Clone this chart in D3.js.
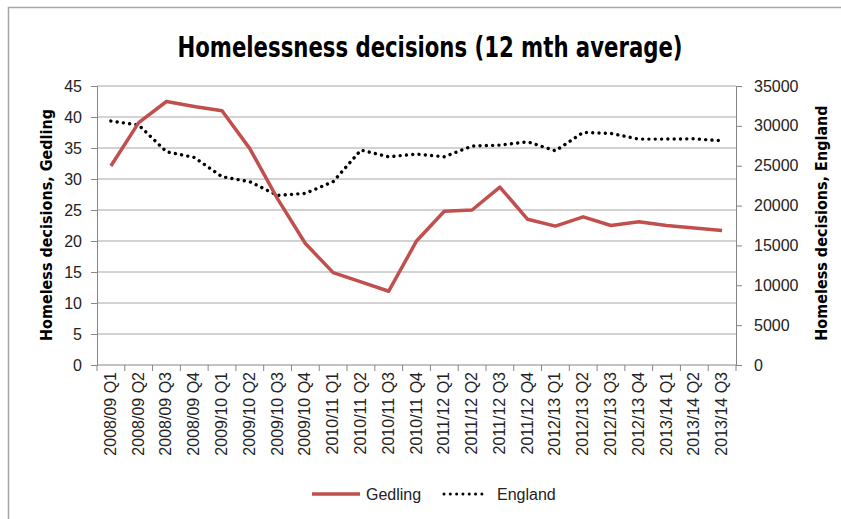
<!DOCTYPE html>
<html lang="en">
<head>
    <meta charset="UTF-8">
    <title>Homelessness decisions (12 mth average)</title>
    <script src="https://d3js.org/d3.v7.min.js"></script>
    <style>
        body { margin: 0; background: #fff; }
        svg { display: block; font-family: "Liberation Sans", Arial, sans-serif; }
        .narrow { font-family: "Liberation Sans Narrow", "DejaVu Sans Condensed", sans-serif; }
    </style>
</head>
<body>
    <div id="chart"></div>
    <script>
        // quarters on the x axis
        var quarters = [
            "2008/09 Q1", "2008/09 Q2", "2008/09 Q3", "2008/09 Q4",
            "2009/10 Q1", "2009/10 Q2", "2009/10 Q3", "2009/10 Q4",
            "2010/11 Q1", "2010/11 Q2", "2010/11 Q3", "2010/11 Q4",
            "2011/12 Q1", "2011/12 Q2", "2011/12 Q3", "2011/12 Q4",
            "2012/13 Q1", "2012/13 Q2", "2012/13 Q3", "2012/13 Q4",
            "2013/14 Q1", "2013/14 Q2", "2013/14 Q3"
        ];
        // Gedling (left axis)
        var gedling = [32.1, 39.1, 42.5, 41.7, 41.0, 34.9, 26.8, 19.6, 14.9, 13.4, 11.9, 20.0,
                       24.8, 25.0, 28.7, 23.5, 22.4, 23.9, 22.5, 23.1, 22.5, 22.1, 21.7];
        // England (right axis)
        var england = [30600, 30100, 26750, 26040, 23620, 22990, 21280, 21530, 23000, 26960, 26120, 26460,
                       26120, 27460, 27590, 28000, 26870, 29180, 29050, 28340, 28340, 28380, 28130];
        var leftTicks = [0, 5, 10, 15, 20, 25, 30, 35, 40, 45];
        var rightTicks = [0, 5000, 10000, 15000, 20000, 25000, 30000, 35000];

        var width = 841, height = 519;
        var plot = { left: 97, right: 736, top: 86, bottom: 365 };

        var svg = d3.select("#chart").append("svg")
            .attr("width", width)
            .attr("height", height);

        // outer chart border (runs off the right and bottom of the picture)
        svg.append("rect")
            .attr("x", 8.5).attr("y", 7.5)
            .attr("width", 900).attr("height", 600)
            .attr("fill", "none")
            .attr("stroke", "#a6a6a6")
            .attr("stroke-width", 1.5);

        var x = d3.scaleBand().domain(quarters).range([plot.left, plot.right]);
        var yL = d3.scaleLinear().domain([0, 45]).range([plot.bottom, plot.top]);
        var yR = d3.scaleLinear().domain([0, 35000]).range([plot.bottom, plot.top]);
        var cx = d => x(d) + x.bandwidth() / 2;

        // gridlines
        svg.append("g").selectAll("line")
            .data(leftTicks.slice(1))
            .enter().append("line")
            .attr("x1", plot.left).attr("x2", plot.right)
            .attr("y1", d => yL(d)).attr("y2", d => yL(d))
            .attr("stroke", "#a6a6a6").attr("stroke-width", 1);

        // left axis
        var gL = svg.append("g")
            .attr("transform", "translate(" + plot.left + ",0)")
            .call(d3.axisLeft(yL).tickValues(leftTicks).tickSize(6).tickPadding(9));
        // right axis
        var gR = svg.append("g")
            .attr("transform", "translate(" + plot.right + ",0)")
            .call(d3.axisRight(yR).tickValues(rightTicks).tickFormat(d3.format("d"))
                .tickSize(6).tickPadding(12));
        [gL, gR].forEach(function(g) {
            g.select(".domain").attr("stroke", "#868686");
            g.selectAll(".tick line").attr("stroke", "#868686");
            g.selectAll("text").attr("font-size", 16).attr("fill", "#222")
                .attr("font-family", "'Liberation Sans', Arial, sans-serif");
        });

        // x axis line and ticks between categories
        var gX = svg.append("g");
        gX.append("line")
            .attr("x1", plot.left).attr("x2", plot.right)
            .attr("y1", plot.bottom).attr("y2", plot.bottom)
            .attr("stroke", "#868686");
        gX.selectAll(".xt")
            .data(quarters.concat(["end"]))
            .enter().append("line")
            .attr("x1", (d, i) => i < quarters.length ? x(d) : plot.right)
            .attr("x2", (d, i) => i < quarters.length ? x(d) : plot.right)
            .attr("y1", plot.bottom).attr("y2", plot.bottom + 6)
            .attr("stroke", "#868686");
        gX.selectAll("text")
            .data(quarters)
            .enter().append("text")
            .attr("transform", d => "translate(" + (cx(d) + 5) + "," + (plot.bottom + 7) + ") rotate(-90)")
            .attr("text-anchor", "end")
            .attr("font-size", 16)
            .attr("fill", "#222")
            .text(d => d);

        // lines
        var lineL = d3.line().x((d, i) => cx(quarters[i])).y(d => yL(d));
        var lineR = d3.line().x((d, i) => cx(quarters[i])).y(d => yR(d));

        svg.append("path")
            .datum(england)
            .attr("d", lineR)
            .attr("fill", "none")
            .attr("stroke", "#000")
            .attr("stroke-width", 3.4)
            .attr("stroke-linecap", "round")
            .attr("stroke-dasharray", "0.01 6.3");

        svg.append("path")
            .datum(gedling)
            .attr("d", lineL)
            .attr("fill", "none")
            .attr("stroke", "#c0504d")
            .attr("stroke-width", 3.5)
            .attr("stroke-linejoin", "round");

        // title
        svg.append("text")
            .attr("class", "narrow")
            .attr("x", 430).attr("y", 57)
            .attr("text-anchor", "middle")
            .attr("font-size", 28)
            .attr("font-weight", "bold")
            .attr("textLength", 505)
            .attr("lengthAdjust", "spacingAndGlyphs")
            .text("Homelessness decisions (12 mth average)");

        // axis titles
        svg.append("text")
            .attr("class", "narrow")
            .attr("transform", "translate(52,225) rotate(-90)")
            .attr("text-anchor", "middle")
            .attr("font-size", 16)
            .attr("font-weight", "bold")
            .text("Homeless decisions, Gedling");
        svg.append("text")
            .attr("class", "narrow")
            .attr("transform", "translate(827,223) rotate(-90)")
            .attr("text-anchor", "middle")
            .attr("font-size", 16)
            .attr("font-weight", "bold")
            .text("Homeless decisions, England");

        // legend
        var legend = svg.append("g").attr("transform", "translate(0,494)");
        legend.append("line")
            .attr("x1", 312).attr("x2", 360).attr("y1", 0).attr("y2", 0)
            .attr("stroke", "#c0504d").attr("stroke-width", 3.5);
        legend.append("text")
            .attr("x", 366).attr("y", 6)
            .attr("font-size", 16).attr("fill", "#222")
            .text("Gedling");
        legend.append("line")
            .attr("x1", 444).attr("x2", 488).attr("y1", 0).attr("y2", 0)
            .attr("stroke", "#000").attr("stroke-width", 3)
            .attr("stroke-linecap", "round")
            .attr("stroke-dasharray", "0.01 6.3");
        legend.append("text")
            .attr("x", 497).attr("y", 6)
            .attr("font-size", 16).attr("fill", "#222")
            .text("England");
    </script>
</body>
</html>
